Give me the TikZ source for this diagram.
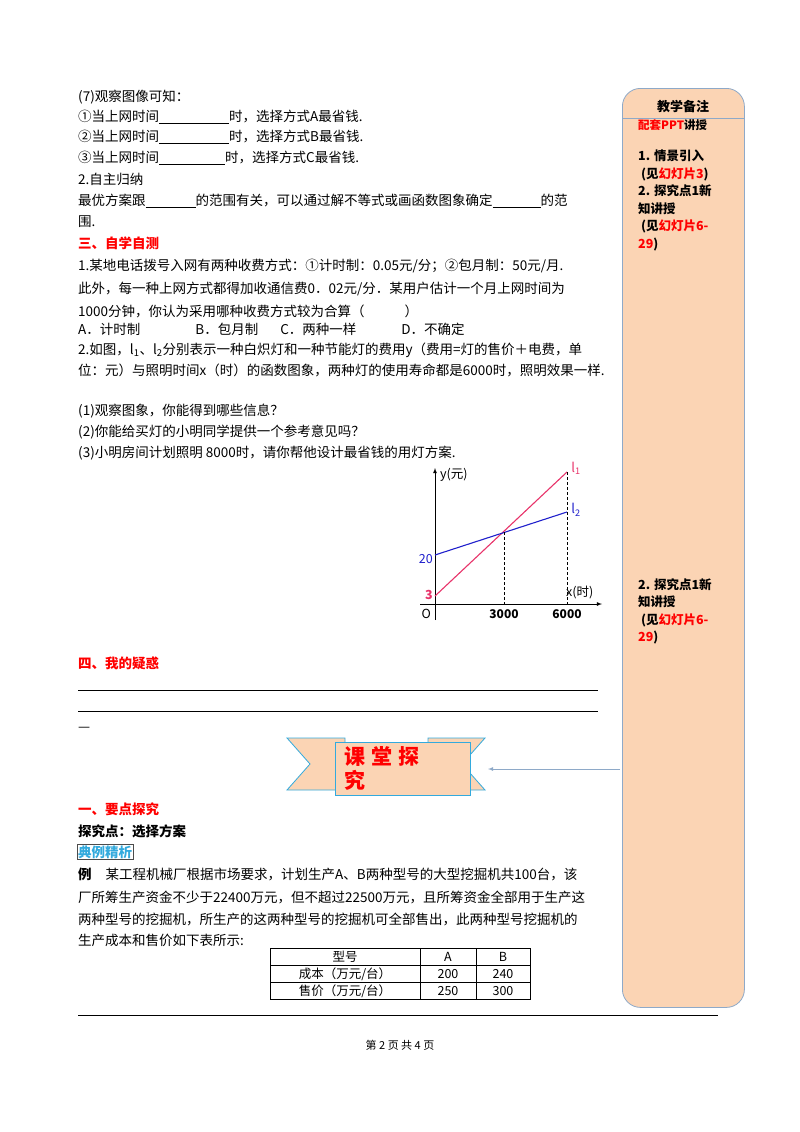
\documentclass[tikz,border=0pt]{standalone}
\usepackage{fontspec}
\setmainfont{Noto Sans CJK SC}
\begin{document}
\begin{tikzpicture}[x=1pt,y=-1pt,
  t/.style={anchor=west,inner sep=0pt,font=\fontsize{13.5}{15}\selectfont},
  h/.style={t,font=\fontsize{13.5}{15}\selectfont\bfseries,text=red},
  sb/.style={anchor=north west,inner sep=0pt,align=left,font=\fontsize{12.5}{17.5}\selectfont\bfseries},
  ax/.style={thick,-latex},
  dsh/.style={densely dashed,thin}]
\definecolor{peach}{HTML}{FBD4B4}
\definecolor{rib}{HTML}{33AADD}
\definecolor{edge}{HTML}{8EA9C8}
\definecolor{bl}{HTML}{2020CC}
\definecolor{pk}{HTML}{E8336A}
\useasboundingbox (0,0) rectangle (800,1132);
\fill[white] (0,0) rectangle (800,1132);
% sidebar
\node[draw=edge,thick,fill=peach,rounded corners=18pt,minimum width=122pt,minimum height=919pt,anchor=north west] (side) at (622,88) {};
\draw[edge,thick] (622,118) -- (744,118);
\node[anchor=center,font=\fontsize{13}{14}\selectfont\bfseries] (sbt) at (683,107) {教学备注};
\node[anchor=west,inner sep=0pt,font=\fontsize{11.5}{14}\selectfont\bfseries] (sb0) at (638,125) {\textcolor{red}{配套PPT}讲授};
\node[sb] (sb1) at (638,150) {1. 情景引入\\\ (见\textcolor{red}{幻灯片3})\\2. 探究点1新\\知讲授\\\ (见\textcolor{red}{幻灯片6-}\\\textcolor{red}{29})};
\node[sb] (sb2) at (638,578) {2. 探究点1新\\知讲授\\\ (见\textcolor{red}{幻灯片6-}\\\textcolor{red}{29})};
% text
\node[t] (l1) at (78,97) {(7)观察图像可知：};
\node[t] (l2) at (78,117) {①当上网时间\underline{\hspace{70pt}}时，选择方式A最省钱.};
\node[t] (l3) at (78,137) {②当上网时间\underline{\hspace{70pt}}时，选择方式B最省钱.};
\node[t] (l4) at (78,158) {③当上网时间\underline{\hspace{66pt}}时，选择方式C最省钱.};
\node[t] (l5) at (78,179) {2.自主归纳};
\node[t] (l6) at (78,201) {最优方案跟\underline{\hspace{50pt}}的范围有关，可以通过解不等式或画函数图象确定\underline{\hspace{48pt}}的范};
\node[t] (l7) at (78,222) {围.};
\node[h] (h3) at (78,243) {三、自学自测};
\node[t] (l8) at (78,266) {1.某地电话拨号入网有两种收费方式：①计时制：0.05元/分；②包月制：50元/月.};
\node[t] (l9) at (78,289) {此外，每一种上网方式都得加收通信费0．02元/分．某用户估计一个月上网时间为};
\node[t] (l10) at (78,311) {1000分钟，你认为采用哪种收费方式较为合算（\hspace{40pt}）};
\node[t] (l11) at (78,329) {A．计时制\hspace{55pt}B．包月制\hspace{22pt}C．两种一样\hspace{45pt}D．不确定};
\node[t] (l12) at (78,350) {2.如图，l\textsubscript{1}、l\textsubscript{2}分别表示一种白炽灯和一种节能灯的费用y（费用=灯的售价＋电费，单};
\node[t] (l13) at (78,370) {位：元）与照明时间x（时）的函数图象，两种灯的使用寿命都是6000时，照明效果一样.};
\node[t] (l14) at (78,411) {(1)观察图象，你能得到哪些信息？};
\node[t] (l15) at (78,432) {(2)你能给买灯的小明同学提供一个参考意见吗？};
\node[t] (l16) at (78,453) {(3)小明房间计划照明\ 8000时，请你帮他设计最省钱的用灯方案.};
% graph
\coordinate (O) at (435,604);
\coordinate (ytop) at (435,468);
\coordinate (xend) at (602,604);
\coordinate (ybot) at (435,620);
\coordinate (xbeg) at (420,604);
\draw[ax] (ybot) -- (ytop);
\draw[ax] (xbeg) -- (xend);
\coordinate (P3) at (435,596);
\coordinate (P20) at (435,555);
\coordinate (E1) at (567,472);
\coordinate (E2) at (567,512);
\coordinate (X) at (504,532);
\coordinate (X0) at (504,604);
\coordinate (S0) at (567,604);
\draw[pk,line width=1.1pt] (P3) -- (E1);
\draw[bl,line width=1.1pt] (P20) -- (E2);
\draw[dsh] (X) -- (X0);
\draw[dsh] (E1) -- (S0);
\node[anchor=west,inner sep=1pt,font=\fontsize{12.5}{13}\selectfont] (yl) at (439,475) {\textit{y}(元)};
\node[anchor=west,inner sep=1pt,font=\fontsize{12.5}{13}\selectfont] (xl) at (565,592) {\textit{x}(时)};
\node[inner sep=1pt,text=pk,font=\fontsize{13}{13}\selectfont\itshape] (n1) at (576,468) {l\textsubscript{1}};
\node[inner sep=1pt,text=bl,font=\fontsize{13}{13}\selectfont\itshape] (n2) at (576,510) {l\textsubscript{2}};
\node[anchor=east,inner sep=1pt,text=bl,font=\fontsize{12.5}{13}\selectfont] (n20) at (434,559) {20};
\node[anchor=east,inner sep=1pt,text=pk,font=\fontsize{12.5}{13}\selectfont\bfseries] (n3) at (434,595) {3};
\node[anchor=east,inner sep=1pt,font=\fontsize{12.5}{13}\selectfont\itshape] (nO) at (432,614) {O};
\node[inner sep=1pt,font=\fontsize{12}{13}\selectfont\bfseries] (n3000) at (504,614) {3000};
\node[inner sep=1pt,font=\fontsize{12}{13}\selectfont\bfseries] (n6000) at (567,614) {6000};
% section 4
\node[h,text=red] (h4) at (78,663) {四、我的疑惑};
\coordinate (a1) at (78,690); \coordinate (b1) at (598,690);
\coordinate (a2) at (78,711); \coordinate (b2) at (598,711);
\draw[thin] (a1) -- (b1); \draw[thin] (a2) -- (b2);
\node[t] (dash) at (78,729) {—};
% banner
\draw[rib,thick,fill=peach] (287,738) -- (345,738) -- (345,790) -- (287,790) -- (310,764) -- cycle;
\draw[rib,thick,fill=peach] (485,738) -- (428,738) -- (428,790) -- (485,790) -- (462,764) -- cycle;
\draw[rib,thick,fill=peach] (335,742) -- (470,742) -- (470,795) -- (335,795) -- cycle;
\node[anchor=north west,inner sep=0pt,text=red,align=left,font=\fontsize{21}{24}\selectfont\bfseries] (bt) at (344,746) {课\hspace{6pt}堂\hspace{6pt}探\\究};
\coordinate (arS) at (620,769); \coordinate (arE) at (488,769);
\draw[edge,thick,-latex] (arS) -- (arE);
% section 1
\node[h] (h1) at (78,809) {一、要点探究};
\node[t,font=\fontsize{13.5}{15}\selectfont\bfseries] (tj) at (78,831) {探究点：选择方案};
\node[anchor=west,draw=black!70,inner sep=1pt,text=rib,font=\fontsize{13.5}{15}\selectfont\bfseries] (dl) at (77,852) {典例精析};
\node[t] (e1) at (78,874) {\textbf{例}\hspace{14pt}某工程机械厂根据市场要求，计划生产A、B两种型号的大型挖掘机共100台，该};
\node[t] (e2) at (78,897) {厂所筹生产资金不少于22400万元，但不超过22500万元，且所筹资金全部用于生产这};
\node[t] (e3) at (78,919) {两种型号的挖掘机，所生产的这两种型号的挖掘机可全部售出，此两种型号挖掘机的};
\node[t] (e4) at (78,940) {生产成本和售价如下表所示:};
% table
\draw[thin] (270,948) rectangle (530,999);
\draw[thin] (270,965) -- (530,965);
\draw[thin] (270,982) -- (530,982);
\draw[thin] (420,948) -- (420,999);
\draw[thin] (476,948) -- (476,999);
\begin{scope}[every node/.style={inner sep=0pt,font=\fontsize{12.5}{13}\selectfont}]
\node (c11) at (345,957) {型号}; \node (c12) at (448,957) {A}; \node (c13) at (503,957) {B};
\node (c21) at (345,974) {成本（万元/台）}; \node (c22) at (448,974) {200}; \node (c23) at (503,974) {240};
\node (c31) at (345,991) {售价（万元/台）}; \node (c32) at (448,991) {250}; \node (c33) at (503,991) {300};
\end{scope}
\coordinate (r1) at (78,1015); \coordinate (r2) at (718,1015);
\draw[thick] (r1) -- (r2);
\node[inner sep=0pt,font=\fontsize{11}{12}\selectfont] (ft) at (400,1045) {第\ 2\ 页\ 共\ 4\ 页};
\end{tikzpicture}
\end{document}
